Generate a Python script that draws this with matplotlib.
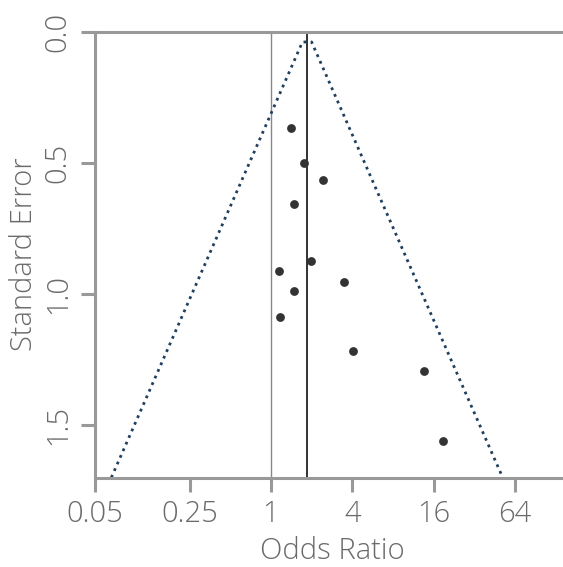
import numpy as np
import matplotlib
matplotlib.use("Agg")
import matplotlib.pyplot as plt

# study estimates
odds_ratio = [1.42, 1.75, 2.43, 1.47, 1.98, 1.14, 3.49, 1.47, 1.17, 4.07, 13.6, 18.8]
std_error = [0.368, 0.502, 0.567, 0.657, 0.875, 0.914, 0.953, 0.989, 1.090, 1.218, 1.293, 1.562]
pooled_or = 1.85
null_or = 1.0
funnel_se = [0.04, 1.7]
x_ticks = [0.05, 0.25, 1, 4, 16, 64]
x_tick_labels = ["0.05", "0.25", "1", "4", "16", "64"]
y_ticks = [0.0, 0.5, 1.0, 1.5]

plt.rcParams['font.family'] = ['Open Sans', 'DejaVu Sans']
grey = "#999999"
text_grey = "#6a6a6a"

fig = plt.figure(figsize=(5.63, 5.67), dpi=100)
W, H = 563, 567
ax = fig.add_axes([95 / W, 1 - 477.5 / H, (570 - 95) / W, (477.5 - 31.5) / H])

ax.set_xscale("log")
ax.set_xlim(0.05, 163)
ax.set_ylim(1.7, 0.0)

# reference lines
ax.axvline(null_or, color="#888888", linewidth=1.0, zorder=1)
ax.axvline(pooled_or, color="#222222", linewidth=1.3, zorder=1)

# pseudo 95% confidence funnel
se = np.array(funnel_se)
lo = pooled_or * np.exp(-1.96 * se)
hi = pooled_or * np.exp(1.96 * se)
ax.plot([lo[1], lo[0], hi[0], hi[1]], [se[1], se[0], se[0], se[1]],
        linestyle=(0, (1, 1.6)), color="#1f3f5f", linewidth=2.0, zorder=2)

ax.scatter(odds_ratio, std_error, s=40, color="#333333", zorder=3, linewidths=0)

ax.set_xticks(x_ticks)
ax.set_xticklabels(x_tick_labels)
ax.xaxis.set_minor_locator(matplotlib.ticker.NullLocator())
ax.set_yticks(y_ticks)
ax.set_yticklabels(["0.0", "0.5", "1.0", "1.5"], rotation=90, va="center")

for side in ["left", "bottom", "top"]:
    ax.spines[side].set_color(grey)
    ax.spines[side].set_linewidth(2.2)
ax.spines["right"].set_visible(False)

ax.tick_params(axis="both", colors=grey, width=2.2, length=10, labelsize=21,
               labelcolor=text_grey, pad=6)
for lbl in ax.get_xticklabels() + ax.get_yticklabels():
    lbl.set_fontweight("light")

ax.set_xlabel("Odds Ratio", fontsize=21, color=text_grey, labelpad=5, fontweight="light")
ax.set_ylabel("Standard Error", fontsize=21, color=text_grey, labelpad=3, fontweight="light")

fig.savefig("out.png", dpi=100)
